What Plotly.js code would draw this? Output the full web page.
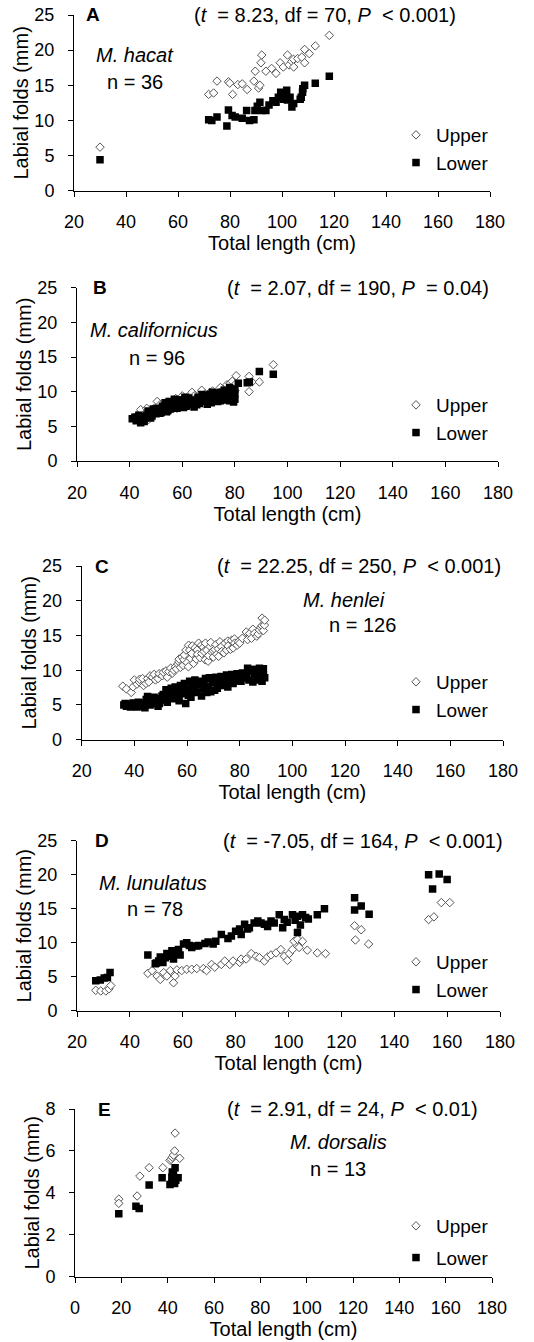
<!DOCTYPE html>
<html><head><meta charset="utf-8">
<script src="https://cdn.plot.ly/plotly-3.0.1.min.js"></script>
<style>html,body{margin:0;padding:0;background:#fff}#chart{width:534px;height:1342px}</style>
</head><body><div id="chart"></div>
<script>
// ---------- DATA (Total length cm, labial fold length mm) ----------
// Panel A: M. hacat
const A_upper_len = [30, 71.8, 73.7, 75.0, 79.4, 79.9, 81.0, 83.0, 84.7, 86.6, 89.2, 89.7, 91.0, 91.5, 91.9, 92.2, 93.8, 96.0, 97.7, 99.3, 100.5, 102.1, 102.7, 103.8, 104.4, 104.5, 106.0, 107.6, 108.7, 108.7, 110.5, 112.8, 118.2];
const A_upper     = [6.2, 13.7, 13.9, 15.6, 15.5, 15.3, 13.7, 15.1, 15.2, 14.4, 15.6, 17.0, 14.6, 15.0, 18.2, 19.3, 17.0, 17.4, 16.7, 18.2, 17.6, 19.3, 17.9, 18.4, 18.7, 17.6, 18.8, 19.0, 20.1, 18.2, 19.5, 20.6, 22.1];
const A_lower_len = [30, 71.8, 73.0, 75.0, 78.8, 79.4, 80.8, 82.0, 84.7, 86.4, 87.5, 89.2, 89.6, 90.5, 91.5, 92.3, 93.8, 95.0, 96.5, 97.7, 98.6, 99.5, 100.5, 101.0, 101.8, 102.1, 103.1, 103.8, 104.5, 107.0, 107.4, 107.9, 108.0, 108.7, 112.8, 118.2];
const A_lower     = [4.4, 10.1, 10.0, 10.5, 9.2, 11.5, 10.7, 10.5, 10.3, 11.4, 10.0, 10.1, 11.4, 12.0, 12.6, 11.4, 11.4, 12.2, 12.8, 12.6, 13.3, 14.0, 13.0, 13.6, 14.3, 12.9, 13.3, 11.9, 12.4, 13.0, 13.3, 14.0, 14.5, 15.0, 15.3, 16.3];

// Panel B: M. californicus
const B_upper_len = [41.5, 42.5, 43, 43.5, 44.2, 44.5, 45, 46, 46.5, 47, 47.3, 48, 48.5, 49, 50, 50.5, 51, 51.5, 52, 52.5, 53, 53.5, 54, 54.5, 55, 55, 55.5, 56, 56.5, 57, 57.5, 58, 58, 58.5, 59, 59.5, 60, 60, 60.5, 61, 61.5, 62, 62.5, 63, 63.7, 64, 64.5, 65, 65.5, 66, 66.5, 67, 67.4, 68, 68.5, 69, 69.5, 70, 70.5, 71, 71.5, 72, 72.5, 73, 73.5, 74, 74.5, 74.5, 75, 75.5, 76, 76.5, 77, 77, 77.5, 78, 78.2, 78.5, 79, 79, 79.5, 80, 80, 80.5, 85.4, 85.4, 86.5, 89.3, 94.6];
const B_upper     = [6.3, 6.0, 6.5, 6.8, 7.4, 6.1, 6.5, 6.9, 7.6, 6.4, 6.0, 7.2, 6.7, 7.5, 7.0, 8.6, 7.4, 8.1, 7.8, 7.0, 8.0, 7.3, 7.6, 8.5, 8.3, 7.2, 7.9, 8.6, 7.7, 8.4, 9.0, 8.1, 7.6, 8.8, 8.3, 7.9, 8.5, 9.4, 8.9, 8.2, 9.1, 8.7, 9.2, 8.4, 9.9, 8.8, 9.4, 9.0, 8.5, 9.3, 8.7, 9.8, 10.2, 9.1, 9.6, 8.9, 9.4, 9.4, 9.9, 9.2, 10.1, 9.7, 9.0, 9.5, 9.8, 10.0, 9.3, 10.6, 9.8, 10.3, 9.6, 10.4, 10.1, 11.0, 9.4, 9.7, 11.2, 10.4, 9.9, 11.5, 10.6, 11.0, 10.2, 12.3, 12.2, 10.0, 11.4, 11.4, 13.9];
const B_lower_len = [41, 42, 42.5, 43, 43.5, 44.2, 44.5, 45, 45.5, 46, 46.5, 47, 47.5, 48, 48.5, 49, 49.5, 50, 50.5, 51, 51.5, 52, 52.5, 53, 53.5, 54, 54, 54.5, 55, 55.5, 56, 56.5, 57, 57, 57.5, 58, 58.5, 59, 59.5, 60, 60.5, 61, 61, 61.5, 62, 62.5, 63, 63.5, 64, 64.5, 65, 65.5, 66, 66, 66.5, 67, 67.5, 68, 68.5, 69, 69.5, 70, 70.5, 71, 71.5, 72, 72.5, 73, 73.5, 74, 74.5, 75, 75.5, 76, 76, 76.5, 77, 77.5, 78, 78, 78.5, 79, 79, 79.5, 80, 80, 80, 81.3, 84.7, 85.5, 89.3, 94.6];
const B_lower     = [6.1, 6.3, 5.8, 5.9, 6.6, 5.5, 6.0, 6.4, 5.7, 6.2, 6.6, 7.2, 6.9, 6.2, 6.5, 7.5, 7.1, 6.8, 7.6, 7.4, 6.9, 7.0, 7.9, 7.7, 8.4, 8.2, 7.1, 7.3, 8.6, 7.5, 7.8, 8.4, 8.9, 7.9, 8.0, 7.6, 8.8, 8.5, 8.1, 8.8, 7.7, 8.3, 9.2, 7.9, 8.6, 9.1, 8.1, 8.8, 8.4, 7.8, 8.7, 8.1, 9.2, 8.7, 8.3, 8.9, 9.6, 9.4, 8.6, 9.1, 8.2, 8.8, 9.6, 8.4, 9.9, 9.3, 8.9, 9.8, 8.6, 9.4, 8.7, 9.9, 9.0, 10.2, 9.1, 9.5, 8.8, 10.0, 10.6, 8.7, 9.2, 10.3, 9.6, 8.5, 9.7, 10.4, 8.9, 11.2, 11.3, 11.4, 12.9, 12.5];

// Panel C: M. henlei
const C_upper_len = [35.6, 37, 38.8, 39.5, 40, 41, 41.9, 42, 43.1, 43.5, 44.4, 45, 45.5, 46, 46.9, 47.5, 48, 49, 49.4, 50.6, 51, 52, 52.5, 53.1, 53.8, 54.5, 55, 55.6, 56, 56.5, 56.9, 57, 57.5, 58.1, 58.5, 58.8, 59, 59.6, 60, 60.5, 60.6, 61, 61.3, 61.8, 62, 62.5, 63, 63.5, 63.8, 64, 64.4, 65, 65.5, 65.6, 66.2, 66.5, 66.9, 67, 67.5, 68, 68.2, 68.8, 69, 69.4, 70, 70, 70.6, 71, 71.3, 71.9, 72, 72.5, 73, 73.2, 74, 74.4, 75, 75.5, 75.6, 76.5, 76.9, 77.5, 78, 78.1, 79, 79.5, 80, 81, 82.5, 83, 83.8, 84.5, 85, 85.6, 86.5, 87, 87.5, 88, 88.5, 88.5, 89, 89.4, 89.5];
const C_upper     = [7.7, 7.3, 6.8, 7.6, 8.6, 8.0, 8.3, 8.7, 8.8, 7.8, 8.1, 8.8, 8.3, 9.2, 9.0, 9.4, 8.6, 8.8, 9.5, 9.2, 9.7, 9.9, 9.0, 9.8, 10.3, 9.6, 10.0, 10.5, 10.2, 10.9, 11.2, 11.6, 10.4, 11.9, 10.7, 11.5, 12.2, 12.9, 11.1, 10.5, 13.6, 12.9, 11.7, 12.4, 13.5, 11.0, 13.2, 11.6, 12.9, 12.3, 13.9, 11.8, 13.6, 12.4, 13.3, 12.7, 11.5, 13.9, 12.9, 11.3, 12.1, 13.4, 14.0, 12.6, 11.9, 12.8, 13.0, 13.7, 12.3, 13.1, 12.0, 14.1, 13.4, 12.7, 12.5, 13.9, 12.9, 14.2, 13.5, 13.0, 14.3, 13.2, 14.5, 13.9, 13.6, 14.1, 13.9, 14.6, 15.5, 14.4, 15.3, 14.6, 15.9, 15.3, 14.9, 15.2, 15.8, 16.2, 17.5, 16.4, 15.7, 16.5, 17.2];
const C_lower_len = [36, 36.5, 37, 37.5, 38, 38.5, 39, 39.5, 40, 40.5, 41, 41.5, 42, 42.5, 43, 43.5, 44, 44.5, 45, 45.5, 46, 46.5, 47, 47.5, 48, 48.5, 49, 49.5, 50, 50.5, 51, 51.5, 52, 52.5, 53, 53.5, 54, 54.5, 55, 55.5, 56, 56.5, 57, 57.5, 58, 58.5, 59, 59.5, 60, 60.5, 61, 61.5, 62, 62.5, 63, 63, 63.5, 64, 64.5, 65, 65.5, 66, 66.5, 67, 67.5, 68, 68.5, 69, 69.5, 70, 70.5, 71, 71.5, 72, 72.5, 73, 73.5, 74, 74.5, 75, 75.5, 76, 76.5, 77, 77.5, 78, 78.5, 79, 79.5, 80, 80.5, 81, 81.5, 82, 82.5, 83, 83.5, 84, 84.5, 85, 85.5, 86, 86.5, 87, 87.5, 88, 88.5, 89, 89, 89.5];
const C_lower     = [5.0, 5.2, 4.8, 5.0, 5.1, 4.7, 4.9, 5.3, 5.2, 5.0, 4.7, 5.4, 5.0, 4.8, 5.3, 5.1, 4.6, 5.8, 6.2, 5.5, 5.0, 5.3, 5.6, 6.1, 5.2, 5.5, 4.8, 5.2, 5.9, 6.3, 6.5, 5.7, 7.2, 5.4, 6.8, 6.1, 7.4, 5.9, 6.4, 7.6, 7.0, 6.2, 5.6, 7.8, 6.6, 7.3, 8.1, 5.2, 7.3, 6.4, 8.4, 6.1, 7.7, 6.9, 8.6, 7.4, 6.8, 7.9, 8.1, 8.4, 6.3, 7.3, 7.8, 8.8, 6.8, 7.6, 8.9, 6.9, 8.5, 8.2, 7.1, 9.0, 7.4, 8.6, 8.0, 9.1, 7.8, 8.4, 8.9, 9.3, 7.6, 8.8, 8.2, 9.4, 8.1, 9.0, 8.5, 9.5, 8.6, 9.2, 8.4, 9.6, 9.1, 8.9, 9.4, 10.3, 8.6, 9.8, 10.1, 8.3, 9.4, 10.1, 9.2, 8.6, 10.3, 9.6, 8.4, 10.2, 9.3, 8.9];

// Panel D: M. lunulatus
const D_upper_len = [27.1, 29, 30.9, 32.1, 32.8, 46.8, 48.4, 50.3, 51.5, 52.8, 54, 55.3, 56.5, 57.1, 57.8, 59.6, 61.5, 63.4, 65.3, 67.8, 69, 70.9, 72.1, 74.6, 75.9, 77.8, 79, 81.5, 82.1, 84, 85.9, 87.8, 89, 90.9, 92.1, 93.4, 95.3, 97.1, 98.4, 99.6, 100.3, 101.5, 102.1, 103.4, 104, 105.3, 107.1, 110.9, 114, 125, 127.5, 125.3, 130.3, 157.8, 161, 153, 155];
const D_upper     = [3.0, 2.9, 2.9, 3.2, 3.7, 5.5, 5.9, 5.1, 4.6, 5.6, 5.1, 5.9, 4.1, 5.1, 6.0, 5.9, 6.1, 6.1, 6.2, 6.2, 5.9, 6.8, 6.4, 6.8, 7.3, 6.8, 7.3, 7.1, 7.6, 7.6, 8.4, 8.0, 7.8, 7.3, 7.9, 8.2, 8.5, 9.0, 8.0, 7.4, 8.4, 9.0, 10.2, 10.5, 9.3, 10.2, 8.9, 8.5, 8.4, 12.5, 11.9, 10.4, 9.8, 15.9, 15.9, 13.4, 13.8];
const D_lower_len = [27.1, 28.8, 30.3, 31.5, 32.5, 46.8, 49.6, 50, 50.9, 51.5, 52.1, 52.5, 53.4, 54, 54.6, 55.9, 56.5, 57.1, 58.4, 59, 60.3, 61.5, 62.5, 63.4, 65.3, 66, 68.4, 69.6, 71.5, 72.5, 74.6, 77.1, 78.4, 80, 81.5, 82.1, 83.4, 84.5, 85.2, 87, 88.4, 89.6, 90.9, 92.1, 93.4, 94.6, 96.5, 97.8, 98.4, 99.5, 101.5, 102.5, 103.4, 103.4, 104.5, 105.3, 106.5, 107.5, 110.9, 113.6, 125, 125, 127.5, 130.5, 153, 157, 160, 154.5];
const D_lower     = [4.4, 4.5, 4.8, 4.9, 5.6, 8.2, 6.9, 7.0, 7.3, 7.9, 7.6, 7.1, 7.8, 8.4, 8.0, 8.8, 7.6, 8.5, 9.0, 8.2, 9.8, 10.0, 9.6, 9.3, 9.5, 9.6, 9.9, 10.1, 9.8, 10.2, 11.2, 10.6, 11.0, 11.7, 12.0, 11.2, 12.7, 12.0, 12.2, 12.9, 13.2, 12.9, 12.7, 12.4, 13.2, 12.9, 14.1, 12.2, 13.4, 13.0, 14.1, 13.3, 11.5, 13.9, 12.6, 14.1, 13.7, 13.5, 14.1, 15.0, 16.6, 14.8, 15.4, 14.2, 20.0, 20.1, 19.3, 17.9];

// Panel E: M. dorsalis
const E_upper_len = [18.9, 18.9, 26.8, 28.0, 32.0, 37.9, 41.0, 41.5, 42.0, 42.5, 43.0, 43.2, 45.2];
const E_upper     = [3.7, 3.5, 3.85, 4.8, 5.2, 5.2, 5.55, 5.6, 5.7, 5.8, 6.0, 6.85, 5.65];
const E_lower_len = [18.9, 26.3, 27.7, 32.0, 37.6, 41.0, 41.8, 42.0, 42.5, 43.0, 43.2, 43.5, 44.5];
const E_lower     = [3.0, 3.36, 3.25, 4.38, 4.72, 4.4, 4.75, 5.0, 4.9, 4.45, 5.2, 4.6, 4.72];

// ---------- labels ----------
const panelLetters = ['A', 'B', 'C', 'D', 'E'];
const statTexts = [
  '(<i>t</i>&nbsp; = 8.23, df = 70, <i>P</i>&nbsp; &lt; 0.001)',
  '(<i>t</i>&nbsp; = 2.07, df = 190, <i>P</i>&nbsp; = 0.04)',
  '(<i>t</i>&nbsp; = 22.25, df = 250, <i>P</i>&nbsp; &lt; 0.001)',
  '(<i>t</i>&nbsp; = -7.05, df = 164, <i>P</i>&nbsp; &lt; 0.001)',
  '(<i>t</i>&nbsp; = 2.91, df = 24, <i>P</i>&nbsp; &lt; 0.01)'
];
const speciesNames = ['M. hacat', 'M. californicus', 'M. henlei', 'M. lunulatus', 'M. dorsalis'];
const sampleSizes = ['n = 36', 'n = 96', 'n = 126', 'n = 78', 'n = 13'];
const seriesNames = ['Upper', 'Lower'];
const xTitle = 'Total length (cm)';
const yTitle = 'Labial folds (mm)';

const upperLen = [A_upper_len, B_upper_len, C_upper_len, D_upper_len, E_upper_len];
const upperVal = [A_upper, B_upper, C_upper, D_upper, E_upper];
const lowerLen = [A_lower_len, B_lower_len, C_lower_len, D_lower_len, E_lower_len];
const lowerVal = [A_lower, B_lower, C_lower, D_lower, E_lower];

// ---------- layout geometry (pixels) ----------
const W = 534, H = 1342;
const px = v => v / W;
const py = v => 1 - v / H;
const FONT = '"Liberation Sans", Arial, sans-serif';
const TICK_FS = 18, TEXT_FS = 20, LEG_FS = 19;

// box: [left, right, top, bottom] plot area; sp: species label / n label centres; st: stats centre x;
// lt: legend top y; lx: letter centre x; gap: legend gap
const geo = [
  {box: [74, 490, 15, 190.7], xr: [20, 180], yr: [0, 25], dy: 5, sp: [135, 55, 135, 82], st: 325, lt: 116, lx: 93, gap: 0},
  {box: [77, 498, 287.7, 461], xr: [20, 180], yr: [0, 25], dy: 5, sp: [154, 330, 157, 358], st: 358, lt: 386, lx: 100, gap: 0},
  {box: [81.7, 503, 566, 739.7], xr: [20, 180], yr: [0, 25], dy: 5, sp: [344, 600, 362, 625], st: 359, lt: 663, lx: 102, gap: 0},
  {box: [77, 500, 840.7, 1010.7], xr: [20, 180], yr: [0, 25], dy: 5, sp: [153, 882.7, 155, 909.3], st: 362.5, lt: 943, lx: 102, gap: 0},
  {box: [75, 492, 1109, 1276.7], xr: [0, 180], yr: [0, 8], dy: 2, sp: [338, 1141.7, 338, 1169.3], st: 352.5, lt: 1207, lx: 104, gap: 4}
];

const traces = [];
const layout = {
  width: W, height: H,
  margin: {l: 0, r: 0, t: 0, b: 0},
  paper_bgcolor: '#fff', plot_bgcolor: '#fff',
  font: {family: FONT, size: TICK_FS, color: '#000'},
  annotations: [],
  showlegend: true
};

geo.forEach((g, i) => {
  const n = i === 0 ? '' : String(i + 1);
  const xa = 'xaxis' + n, ya = 'yaxis' + n;
  const xid = 'x' + n, yid = 'y' + n;
  const lg = i === 0 ? 'legend' : 'legend' + (i + 1);
  const [l, r, t, b] = g.box;
  layout[xa] = {
    domain: [px(l), px(r)], range: g.xr, anchor: yid,
    tick0: 0, dtick: 20, ticks: 'outside', ticklen: 5, tickwidth: 1, tickcolor: '#000',
    showline: true, linecolor: '#000', linewidth: 1, showgrid: false, zeroline: false,
    ticklabelstandoff: 10,
    tickfont: {family: FONT, size: TICK_FS, color: '#000'},
    title: {text: xTitle, font: {family: FONT, size: TEXT_FS, color: '#000'}, standoff: 0}
  };
  layout[ya] = {
    domain: [py(b), py(t)], range: g.yr, anchor: xid,
    tick0: 0, dtick: g.dy, ticks: 'outside', ticklen: 5, tickwidth: 1, tickcolor: '#000',
    showline: true, linecolor: '#000', linewidth: 1, showgrid: false, zeroline: false,
    ticklabelstandoff: 10,
    tickfont: {family: FONT, size: TICK_FS, color: '#000'},
    title: {text: yTitle, font: {family: FONT, size: TEXT_FS, color: '#000'}, standoff: 0}
  };
  layout[lg] = {
    x: px(396), y: py(g.lt), xanchor: 'left', yanchor: 'top',
    bgcolor: 'rgba(0,0,0,0)', borderwidth: 0,
    font: {family: FONT, size: LEG_FS, color: '#000'},
    tracegroupgap: g.gap, traceorder: 'grouped'
  };
  traces.push({
    type: 'scatter', mode: 'markers', name: seriesNames[0],
    x: upperLen[i], y: upperVal[i], xaxis: xid, yaxis: yid,
    legend: lg, legendgroup: 'u' + i,
    marker: {symbol: 'diamond', size: 6.5, color: '#fff', line: {color: '#555', width: 1}},
    hoverinfo: 'skip'
  });
  traces.push({
    type: 'scatter', mode: 'markers', name: seriesNames[1],
    x: lowerLen[i], y: lowerVal[i], xaxis: xid, yaxis: yid,
    legend: lg, legendgroup: 'l' + i,
    marker: {symbol: 'square', size: 7.5, color: '#000', line: {color: '#000', width: 0}},
    hoverinfo: 'skip'
  });
  const ann = (x, y, text, extra) => layout.annotations.push(Object.assign({
    xref: 'paper', yref: 'paper', x: px(x), y: py(y), text: text, showarrow: false,
    xanchor: 'center', yanchor: 'middle', font: {family: FONT, size: TEXT_FS, color: '#000'}
  }, extra || {}));
  ann(g.lx, t, '<b>' + panelLetters[i] + '</b>', {font: {family: FONT, size: 19, color: '#000'}});
  ann(g.st, t, statTexts[i]);
  ann(g.sp[0], g.sp[1], '<i>' + speciesNames[i] + '</i>');
  ann(g.sp[2], g.sp[3], sampleSizes[i]);
});

Plotly.newPlot('chart', traces, layout, {staticPlot: true, displayModeBar: false});
</script>
</body></html>
